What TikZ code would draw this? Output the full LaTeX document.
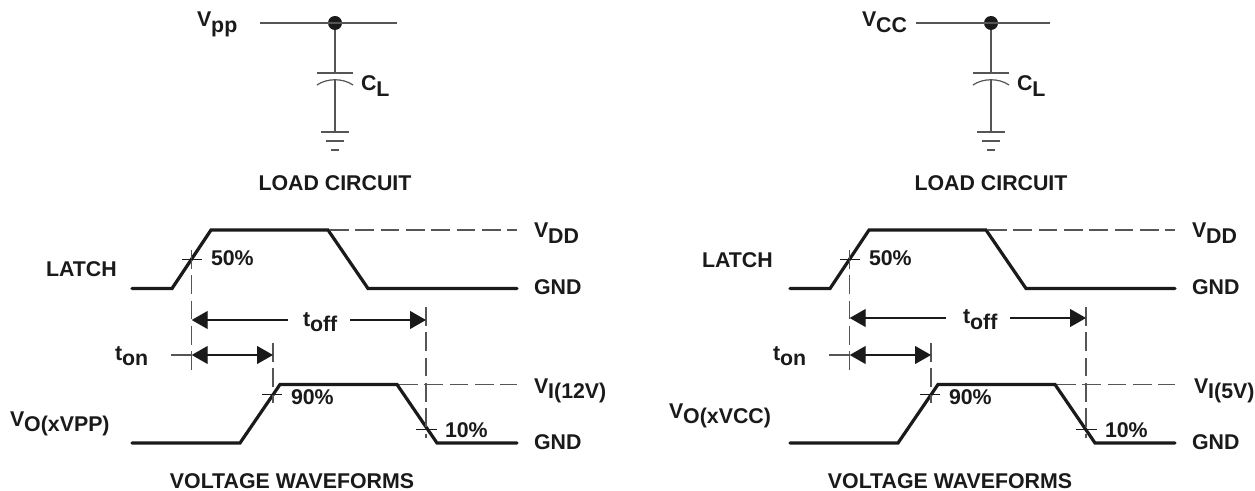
\documentclass[tikz,border=0pt]{standalone}
\usepackage{fontspec}
\setmainfont{Liberation Sans}
\usetikzlibrary{arrows.meta,calc}
\definecolor{ink}{HTML}{1A1A1A}
\definecolor{thin}{HTML}{555555}
\tikzset{
  wave/.style={draw=ink,line width=2.4pt,line cap=round,line join=miter},
  thinline/.style={draw=thin,line width=0.9pt},
  guide/.style={draw=thin,line width=0.8pt,dash pattern=on 14pt off 5pt},
  tick/.style={draw=ink,line width=0.7pt},
  lab/.style={anchor=base west,inner sep=0pt,outer sep=0pt,font=\fontsize{16pt}{18pt}\selectfont\bfseries,text=ink},
  ctr/.style={lab,anchor=base},
  dimtip/.style={{Triangle[length=12pt,width=13.5pt]}-{Triangle[length=12pt,width=13.5pt]},draw=ink,fill=ink,line width=0.8pt},
  dimhalf/.style={-{Triangle[length=12pt,width=13.5pt]},draw=ink,fill=ink,line width=0.8pt},
  junction/.style={circle,fill=ink,draw=none,inner sep=0pt,minimum size=10.5pt},
}
\newcommand{\Vsub}[2]{#1\raisebox{-4.2pt}{#2}}
% #1 prefix, #2 supply name, #3 line left x, #4 line right x, #5 junction x
\newcommand{\loadcircuit}[5]{%
  \coordinate (#1wl) at (#3,23);
  \coordinate (#1wr) at (#4,23);
  \node[junction] (#1dot) at (#5,23) {};
  \draw[thinline] (#1wl) -- (#1wr);
  \coordinate (#1pt) at (#5,73);
  \coordinate (#1pb) at (#5,79);
  \coordinate (#1gnd) at (#5,132);
  \draw[thinline] (#1dot) -- (#1pt);
  \draw[thinline] ($(#1pt)+(-18,0)$) -- ($(#1pt)+(18,0)$);
  \draw[thinline] ($(#1pb)+(-18,6)$) .. controls ($(#1pb)+(-8,-1)$) and ($(#1pb)+(8,-1)$) .. ($(#1pb)+(18,6)$);
  \draw[thinline] (#1pb) -- (#1gnd);
  \draw[thinline] ($(#1gnd)+(-14,0)$) -- ($(#1gnd)+(14,0)$);
  \draw[thinline] ($(#1gnd)+(-9,9)$) -- ($(#1gnd)+(9,9)$);
  \draw[thinline] ($(#1gnd)+(-4,18)$) -- ($(#1gnd)+(4,18)$);
  \node[lab] (#1cl) at ($(#1pt)+(26,18)$) {\Vsub{C}{L}};
  \node[ctr] (#1title) at ($(#1pt)+(0,118)$) {LOAD CIRCUIT};
}
% #1 prefix, #2 toff y, #3 extra x of right toff line
\newcommand{\waveforms}[3]{%
  \draw[wave] (132,288.5) -- (172,288.5) -- (211,230) -- (328,230) -- (368,288.5) -- (517,288.5);
  \draw[wave] (132,443) -- (240,443) -- (280,384.5) -- (397,384.5) -- (437,443) -- (517,443);
  \draw[guide] (330,230) -- (517,230);
  \draw[guide] (399,384.5) -- (517,384.5);
  \coordinate (#1a) at (191.7,#2);
  \coordinate (#1al) at (288,#2);
  \coordinate (#1ar) at (350+#3,#2);
  \coordinate (#1b) at (426+#3,#2);
  \coordinate (#1c) at (191.7,355);
  \coordinate (#1cl) at (171,355);
  \coordinate (#1d) at (273,355);
  \draw[guide] (191.7,250) -- (191.7,370);
  \draw[guide] (273,343) -- (273,403);
  \draw[guide] (426+#3,307) -- (426+#3,438);
  \draw[tick] (182,259) -- (202,259);
  \draw[tick] (262,394) -- (282,394);
  \draw[tick] (416+#3,429) -- (437+#3,429);
  \draw[dimhalf] (#1al) -- (#1a);
  \draw[dimhalf] (#1ar) -- (#1b);
  \draw[dimtip] (#1c) -- (#1d);
  \draw[thinline] (#1cl) -- (#1c);
  \node[lab] (#1pa) at (211,266) {50\%};
  \node[lab] (#1pb) at (291,404) {90\%};
  \node[lab] (#1pc) at (445+#3,437) {10\%};
  \node[lab] (#1ton) at (115,360) {\Vsub{t}{on}};
  \node[lab] (#1toff) at (303+#3,#2+6) {\Vsub{t}{off}};
  \node[lab] (#1vdd) at (534,238) {\Vsub{V}{DD}};
  \node[lab] (#1ga) at (534,295) {GND};
  \node[lab] (#1gb) at (534,449.5) {GND};
  \node[ctr] (#1title) at (292,488) {VOLTAGE WAVEFORMS};
}
\begin{document}
\begin{tikzpicture}[x=0.75pt,y=-0.75pt]
  \path[use as bounding box,fill=white] (0,0) rectangle (1255,491);
  % Left
  \node[lab] (vpp) at (197,27) {\Vsub{V}{pp}};
  \loadcircuit{L}{Vpp}{260}{397}{335}
  \waveforms{w}{320}{0}
  \node[lab] (wlatch) at (46,277) {LATCH};
  \node[lab] (wvi) at (534,393) {\Vsub{V}{I(12V)}};
  \node[lab] (wvo) at (10,426) {\Vsub{V}{O(xVPP)}};
  % Right
  \node[lab] (vcc) at (862,27) {\Vsub{V}{CC}};
  \loadcircuit{R}{Vcc}{916}{1050}{991}
  \begin{scope}[xshift=658*0.75pt]
    \waveforms{u}{318}{2}
    \node[lab] (ulatch) at (44,268) {LATCH};
    \node[lab] (uvi) at (536,393) {\Vsub{V}{I(5V)}};
    \node[lab] (uvo) at (11,418) {\Vsub{V}{O(xVCC)}};
  \end{scope}
\end{tikzpicture}
\end{document}
